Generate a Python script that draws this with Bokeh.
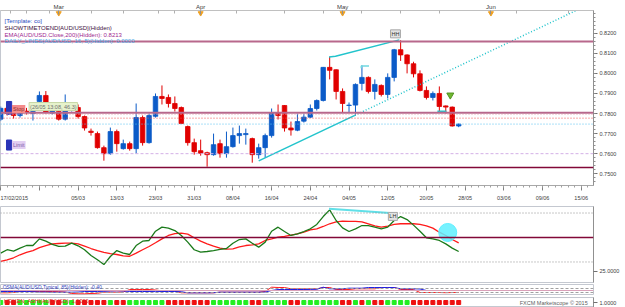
from bokeh.plotting import figure
from bokeh.layouts import column
from bokeh.models import (Range1d, FixedTicker, LinearAxis, Label, Span,
                          ColumnDataSource, NumeralTickFormatter)
from bokeh.embed import file_html
from bokeh.resources import INLINE

FONT = "Liberation Sans"

# ---------------- data ----------------
opens = [0.7772, 0.7826, 0.7800, 0.7790, 0.7812, 0.7800, 0.7860, 0.7890, 0.7802, 0.7810,
         0.7772, 0.7820, 0.7830, 0.7785, 0.7712, 0.7700, 0.7630, 0.7600, 0.7710, 0.7625,
         0.7650, 0.7625, 0.7780, 0.7655, 0.7786, 0.7885, 0.7880, 0.7850, 0.7830, 0.7735,
         0.7655, 0.7615, 0.7605, 0.7595, 0.7650, 0.7600, 0.7635, 0.7690, 0.7695, 0.7675,
         0.7595, 0.7630, 0.7690, 0.7805, 0.7840, 0.7728, 0.7717, 0.7762, 0.7782, 0.7825,
         0.7865, 0.8030, 0.8018, 0.7910, 0.7840, 0.7842, 0.7950, 0.7980, 0.7910, 0.7940,
         0.7895, 0.7980, 0.8118, 0.8092, 0.8048, 0.7998, 0.7915, 0.7880, 0.7900, 0.7838,
         0.7832, 0.7738]
highs = [0.7835, 0.7845, 0.7830, 0.7825, 0.7828, 0.7840, 0.7910, 0.7912, 0.7830, 0.7825,
         0.7895, 0.7845, 0.7845, 0.7790, 0.7725, 0.7710, 0.7640, 0.7730, 0.7720, 0.7670,
         0.7660, 0.7850, 0.7790, 0.7800, 0.7900, 0.7940, 0.7895, 0.7885, 0.7835, 0.7740,
         0.7675, 0.7670, 0.7610, 0.7700, 0.7670, 0.7710, 0.7730, 0.7740, 0.7725, 0.7680,
         0.7650, 0.7700, 0.7825, 0.7845, 0.7842, 0.7760, 0.7800, 0.7800, 0.7845, 0.7870,
         0.8032, 0.8082, 0.8020, 0.7925, 0.7855, 0.7950, 0.8040, 0.7985, 0.7970, 0.7945,
         0.8000, 0.8122, 0.8165, 0.8095, 0.8058, 0.8015, 0.7935, 0.7910, 0.7935, 0.7840,
         0.7835, 0.7750]
lows = [0.7762, 0.7790, 0.7775, 0.7780, 0.7795, 0.7765, 0.7858, 0.7800, 0.7795, 0.7765,
        0.7765, 0.7810, 0.7775, 0.7715, 0.7690, 0.7625, 0.7565, 0.7595, 0.7610, 0.7620,
        0.7615, 0.7600, 0.7640, 0.7650, 0.7780, 0.7845, 0.7830, 0.7810, 0.7748, 0.7640,
        0.7595, 0.7590, 0.7535, 0.7590, 0.7580, 0.7580, 0.7630, 0.7650, 0.7645, 0.7555,
        0.7575, 0.7580, 0.7680, 0.7770, 0.7710, 0.7690, 0.7712, 0.7755, 0.7778, 0.7815,
        0.7860, 0.7970, 0.7870, 0.7805, 0.7805, 0.7790, 0.7915, 0.7900, 0.7870, 0.7885,
        0.7875, 0.7960, 0.8062, 0.8000, 0.7980, 0.7910, 0.7870, 0.7865, 0.7810, 0.7800,
        0.7735, 0.7732]
closes = [0.7826, 0.7800, 0.7790, 0.7812, 0.7805, 0.7810, 0.7890, 0.7806, 0.7815, 0.7772,
          0.7820, 0.7835, 0.7785, 0.7728, 0.7706, 0.7630, 0.7600, 0.7710, 0.7650, 0.7650,
          0.7625, 0.7780, 0.7655, 0.7790, 0.7885, 0.7875, 0.7850, 0.7825, 0.7750, 0.7655,
          0.7610, 0.7602, 0.7595, 0.7645, 0.7600, 0.7635, 0.7690, 0.7700, 0.7700, 0.7595,
          0.7630, 0.7690, 0.7805, 0.7790, 0.7728, 0.7718, 0.7760, 0.7782, 0.7825, 0.7865,
          0.8030, 0.8015, 0.7910, 0.7850, 0.7842, 0.7945, 0.7980, 0.7910, 0.7945, 0.7895,
          0.7980, 0.8118, 0.8092, 0.8048, 0.7998, 0.7915, 0.7880, 0.7900, 0.7835, 0.7832,
          0.7738, 0.7747]

rsi = [38.5, 41.0, 40.0, 42.2, 44.1, 44.1, 49.0, 47.3, 44.9, 43.4,
       43.6, 45.8, 43.9, 41.0, 36.8, 33.6, 30.1, 36.0, 40.4, 38.5,
       37.5, 44.1, 47.3, 47.8, 54.6, 57.6, 56.9, 55.1, 51.5, 46.6,
       41.0, 39.2, 39.7, 40.4, 41.2, 41.9, 45.8, 48.5, 49.0, 45.8,
       42.9, 46.6, 54.6, 57.6, 54.4, 51.5, 52.7, 54.4, 56.4, 59.6,
       65.4, 70.3, 62.5, 57.1, 54.4, 56.4, 58.8, 58.8, 57.6, 56.4,
       57.6, 62.5, 65.4, 63.2, 59.1, 54.6, 49.8, 49.0, 47.8, 45.3,
       42.2, 39.7]
rsi_signal = [32.4, 33.6, 35.1, 37.3, 39.0, 40.4, 42.6, 44.1, 45.3, 45.6,
              45.8, 45.8, 45.3, 43.6, 41.9, 40.4, 39.0, 38.2, 37.5, 36.5,
              36.2, 38.5, 41.0, 43.4, 46.1, 49.0, 51.5, 52.9, 53.2, 52.5,
              49.8, 47.3, 45.3, 43.6, 42.2, 41.5, 41.7, 43.1, 44.1, 44.6,
              45.3, 47.8, 49.0, 50.3, 50.8, 51.7, 52.7, 53.9, 55.6, 56.4,
              58.1, 60.1, 61.5, 62.0, 61.8, 61.8, 61.5, 60.1, 58.6, 57.6,
              58.3, 59.6, 60.1, 60.1, 60.1, 59.6, 58.6, 56.9, 53.9, 51.5,
              48.5, 46.1]

osma_blue = [-0.0010, -0.0010, -0.0010, -0.0011, -0.0010, -0.0012, -0.0015, -0.0015, -0.0017, -0.0017,
             -0.0017, -0.0017, -0.0015, -0.0010, -0.0010, -0.0010, -0.0008, -0.0005, -0.0003, -0.0005,
             -0.0010, -0.0010, -0.0010, -0.0010, -0.0011, -0.0010, -0.0010, -0.0010, -0.0012, -0.0023,
             -0.0023, -0.0023, -0.0023, -0.0022, -0.0017, -0.0017, -0.0017, -0.0017, -0.0017, -0.0017,
             -0.0017, -0.0015, 0.0000, 0.0010, 0.0010, 0.0010, 0.0010, 0.0010, 0.0011, 0.0012,
             0.0033, 0.0017, 0.0017, 0.0017, 0.0023, 0.0023, 0.0023, 0.0030, 0.0030, 0.0030,
             0.0030, 0.0030, 0.0017, 0.0017, 0.0017, 0.0015, 0.0000, 0.0000, 0.0000, 0.0000,
             0.0000, 0.0000]
osma_red = [-0.0023, -0.0023, -0.0020, -0.0010, -0.0010, -0.0010, -0.0010, -0.0010, -0.0010, -0.0012,
            -0.0015, -0.0030, -0.0033, -0.0033, -0.0030, -0.0028, -0.0017, -0.0017, -0.0017, -0.0015,
            0.0010, 0.0010, 0.0010, 0.0010, 0.0005, -0.0003, -0.0003, -0.0005, -0.0023, -0.0023,
            -0.0023, -0.0023, -0.0023, -0.0023, -0.0017, -0.0017, -0.0017, -0.0017, -0.0017, -0.0017,
            -0.0017, -0.0010, 0.0033, 0.0030, 0.0030, 0.0017, 0.0017, 0.0017, 0.0017, 0.0017,
            0.0030, 0.0030, 0.0010, 0.0010, 0.0010, 0.0017, 0.0017, 0.0017, 0.0017, 0.0030,
            0.0030, 0.0030, 0.0010, 0.0010, 0.0010, -0.0020, -0.0020, -0.0020, -0.0020, -0.0022,
            -0.0020, -0.0020]

ha_up = ["g", "r", "r", "g", "g", "g", "g", "g", "r", "r",
         "g", "g", "r", "r", "r", "r", "r", "g", "r", "r",
         "g", "g", "g", "g", "g", "g", "r", "r", "r", "r",
         "r", "r", "r", "g", "g", "g", "g", "g", "g", "r",
         "r", "g", "g", "g", "g", "r", "r", "g", "g", "g",
         "g", "g", "g", "r", "r", "g", "r", "g", "r", "r",
         "g", "g", "g", "g", "r", "r", "r", "r", "r", "r",
         "r", "r"]

date_ticks = [0, 6, 12, 18, 24, 30, 36, 42, 48, 54, 60, 66, 72, 78, 84, 90]
date_labels = ["17/02/2015", "", "05/03", "13/03", "23/03", "31/03", "08/04", "16/04",
               "24/04", "04/05", "12/05", "20/05", "28/05", "03/06", "09/06", "15/06"]
month_ticks = [9, 31, 53, 76]
month_labels = ["Mar", "Apr", "May", "Jun"]
week_ticks = [1.5, 4, 7.5, 14, 19, 24.5, 27, 36.5, 44, 50, 56, 62, 68, 80, 88]
price_ticks = [0.75, 0.76, 0.77, 0.78, 0.79, 0.80, 0.81, 0.82]
levels = [0.81585, 0.78036]
support_level = 0.75316
current_price = 0.77474
stop_lines = [0.7796, 0.7777]
limit_price = 0.7600

hh_line_x = [50.9, 51.9, 61.8]
hh_line_y = [0.8082, 0.8085, 0.8167]
up_line_x = [40.0, 54.9]
up_line_y = [0.7564, 0.7791]
up_ext_x = [54.9, 89.2]
up_ext_y = [0.7791, 0.8313]
small_bracket_x = [55.9, 55.9, 57.1]
small_bracket_y = [0.8025, 0.8037, 0.8037]
small_flat_x = [67.7, 69.1]
small_flat_y = [0.7811, 0.7811]
rsi_lh_x = [50.9, 60.9]
rsi_lh_y = [71.1, 67.9]

N = len(opens)
idx = list(range(N))

BLUE = "#0b5bc8"
RED = "#e00000"
colors = [BLUE if c >= o else RED for o, c in zip(opens, closes)]
src = ColumnDataSource(dict(x=idx, o=opens, h=highs, l=lows, c=closes,
                            top=[max(a, b) for a, b in zip(opens, closes)],
                            bot=[min(a, b) for a, b in zip(opens, closes)],
                            col=colors))

XR = Range1d(-0.03, 91.9)
XEND = 91.9
XLAB = XEND + 0.62

def base_fig(h, yr, top, bottom):
    f = figure(width=625, height=h, x_range=XR, y_range=yr,
               output_backend="svg", toolbar_location=None,
               x_axis_location=None, y_axis_location=None,
               min_border_left=0, min_border_right=32,
               min_border_top=top, min_border_bottom=bottom)
    f.grid.visible = False
    f.outline_line_color = "#c4c8d0"
    f.background_fill_color = "white"
    f.border_fill_color = "white"
    return f

# ---------------- main price panel ----------------
PY0, PY1 = 0.74414, 0.83133
p1 = base_fig(205, Range1d(PY0, PY1), 8, 20)

xa = LinearAxis(ticker=FixedTicker(ticks=date_ticks, minor_ticks=list(range(0, 92))),
                major_label_overrides={t: l for t, l in zip(date_ticks, date_labels)})
xa.major_tick_out = 5
xa.major_tick_in = 0
xa.minor_tick_out = 2
xa.minor_tick_in = 0
xa.major_label_standoff = 4
xa.major_label_text_font = FONT
xa.major_label_text_font_size = "5.5px"
xa.major_label_text_color = "#404040"
xa.axis_line_color = "#a8a8a8"
xa.major_tick_line_color = "#808080"
xa.minor_tick_line_color = "#a0a0a0"
p1.add_layout(xa, "below")

ta = LinearAxis(ticker=FixedTicker(ticks=month_ticks, minor_ticks=week_ticks),
                major_label_overrides={t: l for t, l in zip(month_ticks, month_labels)})
ta.major_tick_in = 4
ta.major_tick_out = 0
ta.minor_tick_in = 3
ta.minor_tick_out = 0
ta.major_label_standoff = 1
ta.major_label_text_font = FONT
ta.major_label_text_font_size = "6px"
ta.major_label_text_color = "#404040"
ta.axis_line_color = "#c0c0c0"
ta.major_tick_line_color = "#909090"
ta.minor_tick_line_color = "#b0b0b0"
p1.add_layout(ta, "above")

ya = LinearAxis(ticker=FixedTicker(ticks=price_ticks,
                                   minor_ticks=[round(0.744 + 0.002 * k, 3) for k in range(45)]),
                formatter=NumeralTickFormatter(format="0.0000"))
ya.major_tick_out = 4
ya.major_tick_in = 0
ya.minor_tick_out = 2
ya.minor_tick_in = 0
ya.major_label_standoff = 2
ya.major_label_text_font = FONT
ya.major_label_text_font_size = "5.5px"
ya.major_label_text_color = "#404040"
ya.axis_line_color = "#909090"
ya.major_tick_line_color = "#707070"
ya.minor_tick_line_color = "#909090"
p1.add_layout(ya, "right")

# horizontal levels
for lv in levels:
    p1.add_layout(Span(location=lv, dimension="width", line_color="#b8688c", line_width=2))
p1.add_layout(Span(location=support_level, dimension="width", line_color="#820838", line_width=1.5))
p1.add_layout(Span(location=stop_lines[0], dimension="width", line_color="#e8a8b0",
                   line_width=1, line_dash="1 2"))
p1.add_layout(Span(location=stop_lines[1], dimension="width", line_color="#f05050",
                   line_width=1, line_dash="1 2"))
p1.add_layout(Span(location=current_price, dimension="width", line_color="#58c0f0",
                   line_width=1, line_dash="1 2"))
p1.add_layout(Span(location=limit_price, dimension="width", line_color="#d4b0e6",
                   line_width=1, line_dash="3 2"))

# candles
p1.segment(x0="x", y0="l", x1="x", y1="h", source=src, line_color="col", line_width=1)
p1.vbar(x="x", width=0.7, top="top", bottom="bot", source=src,
        fill_color="col", line_color="col", line_width=0.8)

# trend lines
TL = "#22c4cc"
p1.line(hh_line_x, hh_line_y, line_color=TL, line_width=1.5)
p1.line(up_line_x, up_line_y, line_color=TL, line_width=1.5)
p1.line(up_ext_x, up_ext_y, line_color=TL, line_width=1.5, line_dash="1 2")
p1.line(small_bracket_x, small_bracket_y, line_color="#70d8e0", line_width=1.5)
p1.line(small_flat_x, small_flat_y, line_color=TL, line_width=1.5)

# month markers
p1.scatter(month_ticks, [0.8300] * len(month_ticks), marker="inverted_triangle",
           size=5, fill_color="#f0a020", line_color="#f0a020")

# green arrow
p1.scatter([69.7], [0.7892], marker="inverted_triangle", size=7,
           fill_color="#70b830", line_color="#509020")

def lab(fig, x, y, text, color="#404040", size="5.5px", align="left", bg=None,
        border=None, pad=0, baseline="middle"):
    l = Label(x=x, y=y, text=text, text_color=color, text_font=FONT,
              text_font_size=size, text_align=align, text_baseline=baseline,
              padding=pad)
    if bg is not None:
        l.background_fill_color = bg
    if border is not None:
        l.border_line_color = border
    fig.add_layout(l)
    return l

# template texts
lab(p1, 0.6, 0.8259, "[Template: co]", "#2848c0", size="6px")
lab(p1, 0.6, 0.8226, "SHOWTIMETOEND[AUD/USD](Hidden)", "#401040", size="6px")
lab(p1, 0.6, 0.8193, "EMA(AUD/USD.Close,200)(Hidden): 0.8213", "#a02890", size="6px")
lab(p1, 0.6, 0.8161, "DAILY_LINES(AUD/USD, 16, 5)(Hidden): 0.0000", "#48a8e8", size="6px")

# right price labels
for lv in levels + [support_level]:
    lab(p1, XLAB, lv, f"{lv:.5f}", "#c8ffff", bg="#962860", pad=1)
lab(p1, XLAB, current_price, f"{current_price:.5f}", "#103060", bg="#6cd0ff", pad=1)

# stop / limit tags
p1.quad(left=[0.9, 0.9], right=[1.7, 1.7], top=[0.7860, 0.7668], bottom=[0.7796, 0.7618],
        fill_color="#2a34b8", line_color="#2a34b8")
lab(p1, 1.75, 0.7822, "Stop", "#903030", bg="#f48a8a", pad=1)
lab(p1, 4.4, 0.7835, "(26/05 13:08, 46.3)", "#707070", bg="#e6f2cc", border="#c8d8a8", pad=1)
lab(p1, 1.75, 0.7643, "Limit", "#8060a8", bg="#e2cef2", pad=1)

# HH tag
lab(p1, 61.2, 0.8197, "HH", "#303030", bg="#e2e2e2", border="#a8a8a8", pad=1, align="center")

# ---------------- RSI panel ----------------
p2 = base_fig(78, Range1d(16.9, 72.8), 1, 1)
ra = LinearAxis(ticker=FixedTicker(ticks=[25], minor_ticks=[]),
                major_label_overrides={25: "25.0000"})
ra.major_tick_out = 4
ra.major_tick_in = 0
ra.major_label_standoff = 2
ra.major_label_text_font = FONT
ra.major_label_text_font_size = "5.5px"
ra.major_label_text_color = "#404040"
ra.axis_line_color = "#909090"
ra.major_tick_line_color = "#707070"
p2.add_layout(ra, "right")

p2.add_layout(Span(location=68, dimension="width", line_color="#909090", line_width=1, line_dash="1 2"))
p2.add_layout(Span(location=32, dimension="width", line_color="#909090", line_width=1, line_dash="1 2"))
p2.add_layout(Span(location=50, dimension="width", line_color="#820838", line_width=1.5))

p2.line(idx, rsi_signal, line_color="#ff1a1a", line_width=1.3)
p2.line(idx, rsi, line_color="#1a7a1a", line_width=1.3)
p2.line(rsi_lh_x, rsi_lh_y, line_color="#60e0e8", line_width=2)
p2.scatter([69.3], [53.7], marker="circle", size=18, fill_color="#5ff0ff",
           line_color="#5ff0ff", fill_alpha=0.85)
lab(p2, 60.8, 65.5, "LH", "#303030", bg="#e2e2e2", border="#a8a8a8", pad=1, align="center")
lab(p2, XLAB, 68, "68", "#303030", bg="#e0e0e0", pad=0)
lab(p2, XLAB, 50, "50.0000", "#ffd8e8", bg="#962860", pad=1)
lab(p2, XLAB, 32, "32", "#303030", bg="#c8c8c8", pad=0)

# ---------------- OsMA panel ----------------
p3 = base_fig(12, Range1d(-0.004, 0.006), 1, 1)
p3.add_layout(Span(location=0.002, dimension="width", line_color="#a0a0a0", line_width=1, line_dash="3 2"))
p3.add_layout(Span(location=-0.002, dimension="width", line_color="#a0a0a0", line_width=1, line_dash="3 2"))
p3.add_layout(Span(location=0.0, dimension="width", line_color="#d8a0b8", line_width=1))
p3.line(idx, osma_red, line_color="#ff2020", line_width=1)
p3.line(idx, osma_blue, line_color="#2020e0", line_width=1)
lab(p3, 0.3, 0.0035, "OSMA(AUD/USD,Typical, 85)(Hidden): -0.40", "#3040c0", size="5px")
lab(p3, XLAB, 0.0, "0.00", "#ffd8e8", bg="#6a1840", pad=1)

# ---------------- Heiken Ashi panel ----------------
p4 = base_fig(12, Range1d(0.5, 1.5), 2, 0)
hx = LinearAxis(ticker=FixedTicker(ticks=[1.0], minor_ticks=[]),
                major_label_overrides={1.0: "1.0000"})
hx.major_tick_out = 4
hx.major_tick_in = 0
hx.major_label_standoff = 2
hx.major_label_text_font = FONT
hx.major_label_text_font_size = "5.5px"
hx.major_label_text_color = "#404040"
hx.axis_line_color = "#909090"
hx.major_tick_line_color = "#707070"
p4.add_layout(hx, "right")
ha_colors = ["#22ee22" if c == "g" else "#ee1111" for c in ha_up]
p4.scatter(idx, [1.0] * N, marker="square", size=4, fill_color=ha_colors, line_color=ha_colors)
lab(p4, 0.5, 1.15, "HEIKEN_ASHI(AUD/USD): 1.0000", "#e02020", size="5.5px")
lab(p4, 91.0, 1.0, "FXCM Marketscope \u00a9 2015", "#606060", size="5.5px", align="right")

layout = column(p1, p2, p3, p4, spacing=0)
open("out.html", "w").write(file_html(layout, INLINE))
